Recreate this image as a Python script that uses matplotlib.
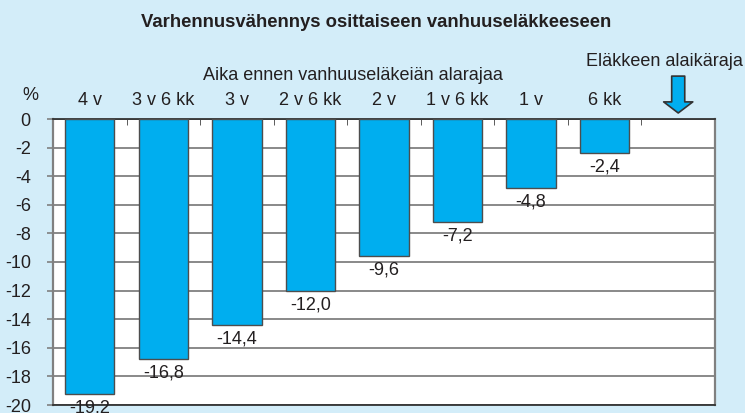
import matplotlib
matplotlib.use("Agg")
import matplotlib.pyplot as plt
import numpy as np

categories = ["4 v", "3 v 6 kk", "3 v", "2 v 6 kk", "2 v", "1 v 6 kk", "1 v", "6 kk", ""]
values = [-19.2, -16.8, -14.4, -12.0, -9.6, -7.2, -4.8, -2.4]
value_labels = ["-19,2", "-16,8", "-14,4", "-12,0", "-9,6", "-7,2", "-4,8", "-2,4"]
yticks = [0, -2, -4, -6, -8, -10, -12, -14, -16, -18, -20]

plt.rcParams['font.family'] = ['Liberation Sans', 'DejaVu Sans']

bg = '#D3EDF9'
bar_color = '#00AEEF'
text_color = '#231F20'
FS = 13

W, H = 745, 413
fig = plt.figure(figsize=(W / 100, H / 100), dpi=100, facecolor=bg)
ax = fig.add_axes([53 / W, (H - 405) / H, (715 - 53) / W, (405 - 119) / H])
ax.set_facecolor('white')

n = len(categories)
x = np.arange(n)
ax.bar(x[:len(values)], values, width=0.67, color=bar_color, edgecolor='#4D4D4D', linewidth=1.0, zorder=3)

for xi, v, lab in zip(x, values, value_labels):
    ax.annotate(lab, xy=(xi, v), xytext=(0, -4), textcoords='offset points',
                ha='center', va='top', fontsize=FS, color=text_color, zorder=4,
                annotation_clip=False)

ax.set_xlim(-0.5, n - 0.5)
ax.set_ylim(-20, 0)
ax.set_yticks(yticks)
ax.set_yticklabels([str(t) for t in yticks], fontsize=FS, color=text_color)
ax.yaxis.grid(True, color='#808080', linewidth=1.3, zorder=1)
ax.set_axisbelow(True)
ax.tick_params(axis='y', direction='out', length=4, color='#808080', width=1.2, pad=12)

ax.xaxis.tick_top()
ax.set_xticks(x)
ax.set_xticklabels(categories, fontsize=FS, color=text_color)
ax.tick_params(axis='x', which='major', length=0, pad=7)
ax.set_xticks(np.arange(n + 1) - 0.5, minor=True)
ax.tick_params(axis='x', which='minor', direction='in', length=4, color='#404040', top=True, bottom=False)

for side in ['left', 'right']:
    ax.spines[side].set_color('#808080')
    ax.spines[side].set_linewidth(1.6)
for side in ['top', 'bottom']:
    ax.spines[side].set_color('#333333')
    ax.spines[side].set_linewidth(1.3)

fig.text(376 / W, 1 - 27 / H, "Varhennusvähennys osittaiseen vanhuuseläkkeeseen",
         ha='center', va='baseline', fontsize=13.3, fontweight='bold', color=text_color)
fig.text(203 / W, 1 - 80 / H, "Aika ennen vanhuuseläkeiän alarajaa",
         ha='left', va='baseline', fontsize=FS, color=text_color)
fig.text(743 / W, 1 - 66 / H, "Eläkkeen alaikäraja",
         ha='right', va='baseline', fontsize=FS, color=text_color)
fig.text(30 / W, 1 - 100 / H, "%", ha='center', va='baseline', fontsize=FS, color=text_color)

# arrow pointing down to the last category (retirement age limit)
ax.annotate('', xy=(x[-1], 0.42), xytext=(x[-1], 3.0), xycoords='data', textcoords='data',
            annotation_clip=False,
            arrowprops=dict(arrowstyle='simple,head_length=8,head_width=21,tail_width=9.4',
                            mutation_scale=1, shrinkA=0, shrinkB=0,
                            facecolor=bar_color, edgecolor='#333333', linewidth=1.2))

fig.savefig('out.png', dpi=100, facecolor=bg)
